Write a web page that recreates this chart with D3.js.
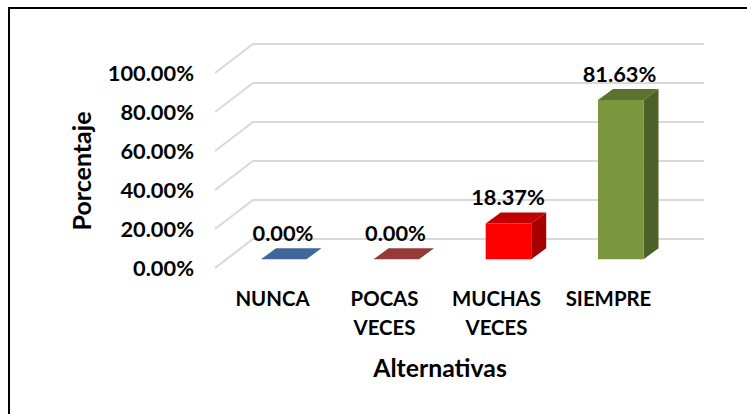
<!DOCTYPE html>
<html><head><meta charset="utf-8">
<script src="https://cdnjs.cloudflare.com/ajax/libs/d3/7.8.5/d3.min.js"></script>
<style>html,body{margin:0;padding:0;background:#fff}svg{display:block}text{font-family:Lato,"Open Sans",sans-serif;font-weight:700;fill:#000}</style>
</head><body><svg id="c" width="747" height="414"></svg>
<script>
const categories=[["NUNCA"],["POCAS","VECES"],["MUCHAS","VECES"],["SIEMPRE"]];
const values=[0,0,18.37,81.63];
const frontColors=["#3f6797","#963a38","#ff0000","#7b973d"];
const topColors=["#3f6797","#963a38","#c00000","#5d7230"];
const sideColors=["#2f4d71","#702b2a","#a60000","#4e6029"];
const tickValues=[0,20,40,60,80,100];
const fmt=d=>d.toFixed(2)+"%";
const svg=d3.select("#c");
svg.append("rect").attr("x",9).attr("y",8).attr("width",800).attr("height",420).attr("fill","#fff").attr("stroke","#000").attr("stroke-width",2);
const y=d3.scaleLinear().domain([0,100]).range([259.3,64.3]);
const bw=45.5,dx=15,dy=11;
const floorFront={dx:-10,dy:8.7},floorBack={dx:28,dy:-20.3};
const xRight=704;
const grid=svg.append("g").attr("fill","none").attr("stroke","#d9d9d9").attr("stroke-width",2);
tickValues.forEach(t=>{
  const p=d3.path();const yy=y(t);
  p.moveTo(225+floorFront.dx,yy+floorFront.dy);
  p.lineTo(225+floorBack.dx,yy+floorBack.dy);
  p.lineTo(xRight,yy+floorBack.dy);
  grid.append("path").attr("d",p.toString());
});
const bx=[261,373.5,485.7,598];
values.forEach((v,i)=>{
  const x0=bx[i],x1=x0+bw,y0=y(0),yt=y(v);
  const g=svg.append("g");
  const poly=(pts,f)=>g.append("polygon").attr("points",pts.map(p=>p.join(",")).join(" ")).attr("fill",f);
  if(v>0){
    poly([[x1,yt],[x1+dx,yt-dy],[x1+dx,y0-dy],[x1,y0]],sideColors[i]);
    poly([[x0,y0],[x1,y0],[x1,yt],[x0,yt]],frontColors[i]);
  }
  poly([[x0,yt],[x1,yt],[x1+dx,yt-dy],[x0+dx,yt-dy]],topColors[i]);
  const lx=[283,395.5,508,619.5][i];
  svg.append("text").attr("x",lx).attr("y",yt-18.5).attr("text-anchor","middle").attr("font-size",21.8).text(fmt(v));
});
tickValues.forEach(t=>{
  svg.append("text").attr("x",194).attr("y",y(t)+16.5).attr("text-anchor","end").attr("font-size",21.8).text(fmt(t));
});
const cx=[272.5,384.5,496.5,608.5];
categories.forEach((c,i)=>{
  c.forEach((s,j)=>svg.append("text").attr("x",cx[i]).attr("y",306+j*29).attr("text-anchor","middle").attr("font-size",20.4).text(s));
});
svg.append("text").attr("x",440).attr("y",376.5).attr("text-anchor","middle").attr("font-size",24.8).text("Alternativas");
svg.append("text").attr("transform","translate(91,171) rotate(-90)").attr("text-anchor","middle").attr("font-size",25).text("Porcentaje");
</script></body></html>
